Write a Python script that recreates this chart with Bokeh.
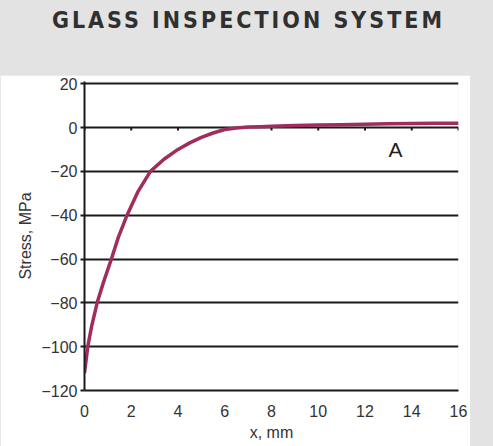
from bokeh.plotting import figure
from bokeh.layouts import column
from bokeh.models import Div, Range1d, FixedTicker, Label
from bokeh.embed import file_html
from bokeh.resources import INLINE

# ---- data ----
title_text = "GLASS INSPECTION SYSTEM"
x_mm = [0, 0.14, 0.3, 0.54, 0.8, 1.15, 1.45, 1.82, 2.3, 2.82, 3.4, 4.0, 4.5,
        5.0, 5.5, 6.0, 6.5, 7.0, 7.5, 8.0, 9.0, 10.0, 11.0, 12.0, 13.0, 14.0, 15.0, 16.0]
stress = [-112, -100, -91, -80, -71, -60, -50, -40, -29, -20, -14.5, -10, -7,
          -4.5, -2.5, -0.9, -0.2, 0.2, 0.4, 0.6, 0.9, 1.1, 1.3, 1.5, 1.7, 1.8, 1.9, 2.0]
x_ticks = [0, 2, 4, 6, 8, 10, 12, 14, 16]
y_ticks = [-120, -100, -80, -60, -40, -20, 0, 20]
y_tick_labels = ["\u2212120", "\u2212100", "\u221280", "\u221260", "\u221240", "\u221220", "0", "20"]
curve_label = "A"
curve_label_x = 13.3
curve_label_y = -10
x_label = "x, mm"
y_label = "Stress, MPa"

FONT = "Liberation Sans"
TXT = "#333333"

div = Div(
    text=('<div style="box-sizing:border-box;width:493px;text-align:center;'
          'font-family:\'DejaVu Sans Condensed\','
          '\'Liberation Sans Narrow\',\'DejaVu Sans\',sans-serif;font-stretch:condensed;'
          'font-weight:bold;font-size:23px;line-height:23px;letter-spacing:3px;'
          'color:#303030;padding-top:9px;padding-left:4px;">' + title_text + '</div>'),
    width=493, height=75, margin=0,
)

p = figure(
    width=470, height=371, title=None,
    x_range=Range1d(0, 16), y_range=Range1d(-120, 21),
    output_backend="svg", toolbar_location=None,
    min_border_left=84, min_border_right=12, min_border_top=6, min_border_bottom=56,
    background_fill_color="white", border_fill_color="white",
    outline_line_color=None,
)

# grid
p.xgrid.visible = False
p.ygrid.ticker = FixedTicker(ticks=y_ticks)
p.ygrid.grid_line_color = "#1a1a1a"
p.ygrid.grid_line_width = 2

# y axis
ya = p.yaxis[0]
ya.ticker = FixedTicker(ticks=y_ticks)
ya.major_label_overrides = {t: l for t, l in zip(y_ticks, y_tick_labels)}
ya.axis_line_color = "#1a1a1a"
ya.axis_line_width = 2
ya.major_tick_out = 4
ya.major_tick_in = 0
ya.major_tick_line_width = 2
ya.major_tick_line_color = "#1a1a1a"
ya.minor_tick_line_color = None
ya.major_label_text_font = FONT
ya.major_label_text_font_size = "16px"
ya.major_label_text_color = TXT
ya.major_label_standoff = 3
ya.axis_label = y_label
ya.axis_label_text_font = FONT
ya.axis_label_text_font_size = "16px"
ya.axis_label_text_font_style = "normal"
ya.axis_label_text_color = TXT
ya.axis_label_standoff = 4

# x axis
xa = p.xaxis[0]
xa.ticker = FixedTicker(ticks=x_ticks)
xa.axis_line_color = "#1a1a1a"
xa.axis_line_width = 2
xa.major_tick_out = 0
xa.major_tick_in = 0
xa.minor_tick_line_color = None
xa.major_label_text_font = FONT
xa.major_label_text_font_size = "16px"
xa.major_label_text_color = TXT
xa.major_label_standoff = 14
xa.axis_label = x_label
xa.axis_label_text_font = FONT
xa.axis_label_text_font_size = "16px"
xa.axis_label_text_font_style = "normal"
xa.axis_label_text_color = TXT
xa.axis_label_standoff = 4

# small ticks along the zero line (Excel-style axis crossing)
p.segment(x0=x_ticks, y0=[0] * len(x_ticks), x1=x_ticks, y1=[-1.4] * len(x_ticks),
          line_color="#1a1a1a", line_width=2)

# curve
p.line(x_mm, stress, line_color="#a02d5e", line_width=3.5)

p.add_layout(Label(x=curve_label_x, y=curve_label_y, text=curve_label,
                   text_font=FONT, text_font_size="21px", text_color="#222222",
                   text_align="center", text_baseline="middle"))

layout = column(div, p, spacing=0)
html = file_html(layout, INLINE)
html = html.replace("</head>",
                    "<style>html, body { background-color: #e3e3e3 !important; overflow: hidden; }</style></head>", 1)
open("out.html", "w").write(html)
